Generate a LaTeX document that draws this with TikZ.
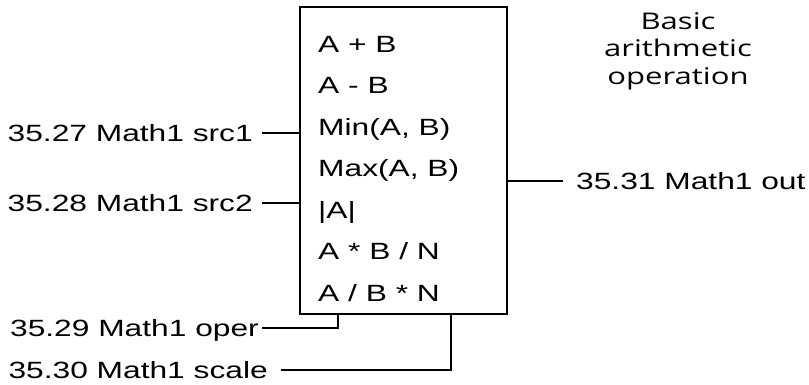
\documentclass[tikz,border=0pt]{standalone}
\usepackage{fontspec}
\setmainfont{Liberation Sans}[FakeStretch=1.35]
\newfontfamily\notefont{Open Sans}[FakeStretch=1.35]
\begin{document}
\begin{tikzpicture}[x=1pt,y=-1pt,
  lab/.style={inner sep=0pt,text height=16.8pt,text depth=0pt,font=\fontsize{23.5}{28}\selectfont},
  op/.style={lab,anchor=west},
  blk/.style={draw,line width=1.4pt,minimum width=207pt,minimum height=307pt,inner sep=0pt},
  wire/.style={line width=1.4pt}]
\useasboundingbox (0,0) rectangle (809,385);
\node[blk] (box) at (403.5,160.5) {};
\node[op] (o1) at (318,44) {A + B};
\node[op] (o2) at (318,85.5) {A - B};
\node[op] (o3) at (318,127) {Min(A, B)};
\node[op] (o4) at (318,168.5) {Max(A, B)};
\node[op] (o5) at (318,210) {|A|};
\node[op] (o6) at (318,251.5) {A * B / N};
\node[op] (o7) at (318,293) {A / B * N};
\node[lab,anchor=east] (l1) at (253,133) {35.27 Math1 src1};
\node[lab,anchor=east] (l2) at (253,203) {35.28 Math1 src2};
\node[lab,anchor=east] (l3) at (259,328) {35.29 Math1 oper};
\node[lab,anchor=east] (l4) at (268,370) {35.30 Math1 scale};
\node[lab,anchor=west] (l5) at (576,181) {35.31 Math1 out};
\node[align=center,inner sep=0pt,font=\notefont\fontsize{23}{27.5}\selectfont] (note) at (678,51) {Basic\\arithmetic\\operation};
\coordinate (opin) at ([xshift=-65.5pt]box.south);
\coordinate (scin) at ([xshift=47.5pt]box.south);
\draw[wire] ([xshift=9pt]l1.east) -- (l1.east -| box.west);
\draw[wire] ([xshift=9pt]l2.east) -- (l2.east -| box.west);
\draw[wire] ([xshift=3pt]l3.east) -| (opin);
\draw[wire] ([xshift=13pt]l4.east) -| (scin);
\draw[wire] ([xshift=-13pt]l5.west) -- (l5.west -| box.east);
\end{tikzpicture}
\end{document}
